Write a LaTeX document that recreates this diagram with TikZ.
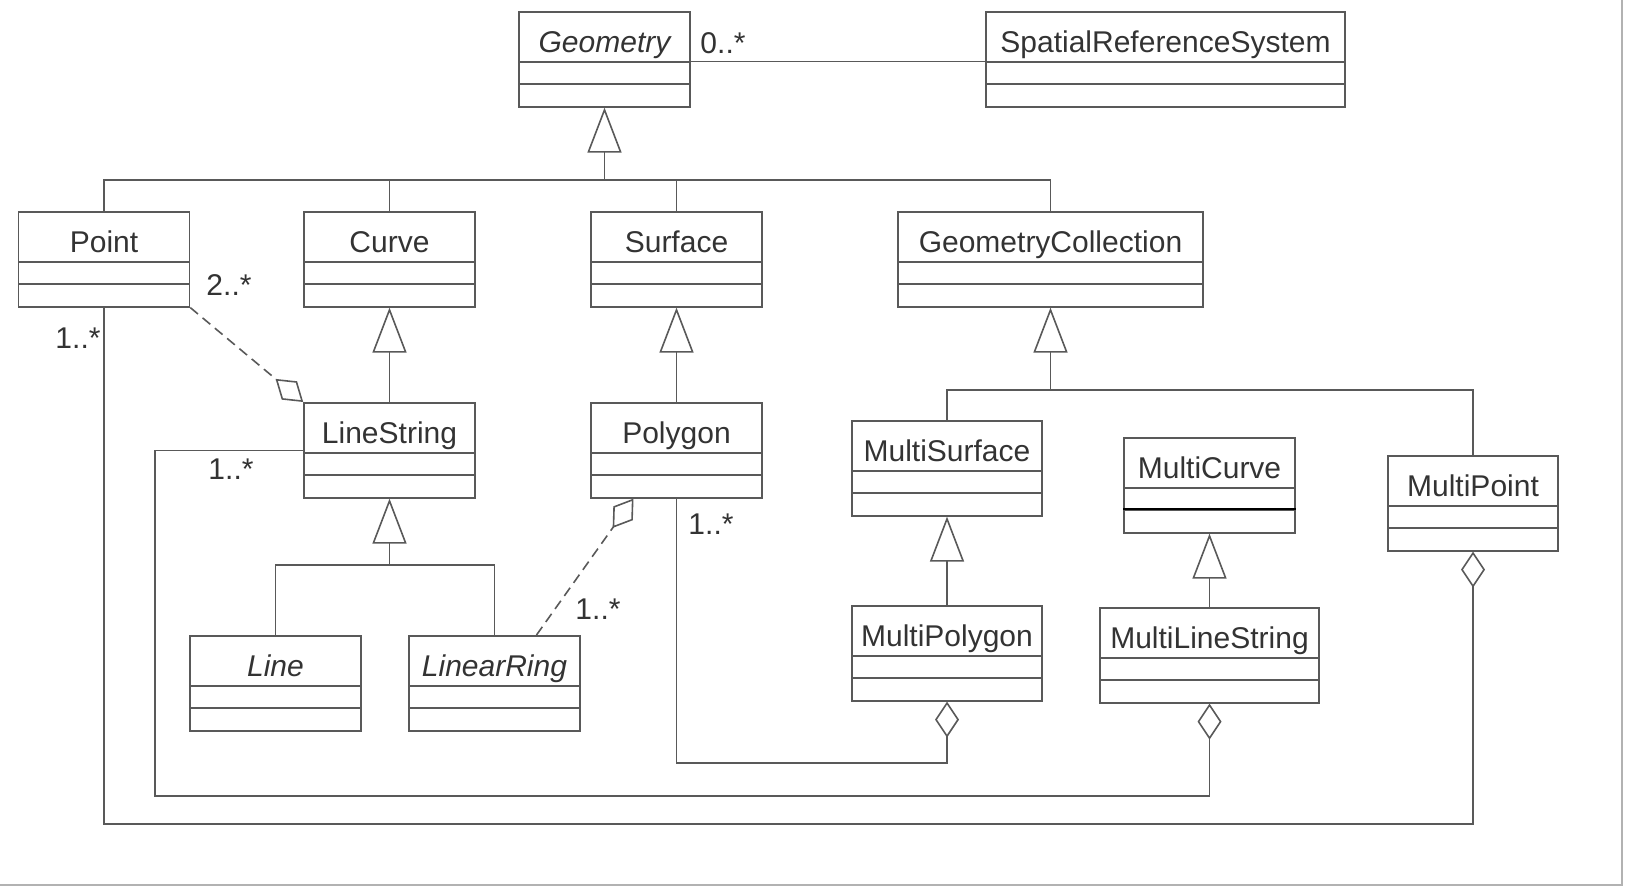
\documentclass[tikz,border=0pt]{standalone}
\usepackage{fontspec}
\setmainfont{Liberation Sans}
\usepackage{tikz}
\usetikzlibrary{arrows.meta}

\tikzset{
  cls/.style={draw=black!65, line width=1.6pt, anchor=north, minimum width=171pt,
    inner xsep=4pt, inner ysep=0pt, text height=41pt, text depth=54pt, text=black!80,
    font=\fontsize{30}{36}\selectfont,
    path picture={\draw[black!65, line width=1.6pt]
      ([yshift=-50pt]path picture bounding box.north west) -- ([yshift=-50pt]path picture bounding box.north east)
      ([yshift=-72pt]path picture bounding box.north west) -- ([yshift=-72pt]path picture bounding box.north east);}},
  abs/.style={cls, font=\fontsize{30}{36}\selectfont\itshape},
  link/.style={draw=black!65, line width=1.6pt},
  gen/.style={link, -{Triangle[open, length=45pt, width=34pt]}},
  agg/.style={link, -{Diamond[open, length=36pt, width=24pt]}},
  mult/.style={text=black!80, font=\fontsize{30}{36}\selectfont, inner sep=0pt},
}

\begin{document}
\begin{tikzpicture}[x=1pt, y=-1pt]
\useasboundingbox (0,0) rectangle (1627,886);
% classes
\node[abs] (geo) at (604.5,11) {Geometry};
\node[cls, minimum width=359pt] (srs) at (1165.5,11) {SpatialReferenceSystem};
\node[cls] (pt) at (104,211) {Point};
\node[cls] (cv) at (389.5,211) {Curve};
\node[cls] (sf) at (676.5,211) {Surface};
\node[cls, minimum width=305pt] (gc) at (1050.5,211) {GeometryCollection};
\node[cls] (ls) at (389.5,402) {LineString};
\node[cls] (pg) at (676.5,402) {Polygon};
\node[cls, minimum width=190pt] (ms) at (947,420) {MultiSurface};
\node[cls] (mc) at (1209.5,437) {MultiCurve};
\node[cls, minimum width=170pt] (mpt) at (1473,455) {MultiPoint};
\node[abs] (ln) at (275.5,635) {Line};
\node[abs] (lr) at (494.5,635) {LinearRing};
\node[cls, minimum width=190pt] (mpg) at (947,605) {MultiPolygon};
\node[cls, minimum width=219pt] (mls) at (1209.5,607) {MultiLineString};
% darker divider in MultiCurve
\draw[black, line width=1.6pt] ([yshift=-72pt]mc.north west) -- ([yshift=-72pt]mc.north east);

% bus lines
\coordinate (bus1) at (0,180);
\coordinate (bus2) at (0,565);
\coordinate (bus3) at (0,390);
\coordinate (pgbus) at (0,763);
\coordinate (lsturn) at (155,796);
\coordinate (ptbus) at (0,824);

% association
\draw[link] ([yshift=-2pt]geo.east) -- ([yshift=-2pt]srs.west);
\node[mult] (m0) at (723,43) {0..*};

% generalizations
\draw[gen] (geo.south |- bus1) -- (geo.south);
\draw[link] (pt.north) |- (gc.north |- bus1) -- (gc.north);
\draw[link] (cv.north) -- (cv.north |- bus1);
\draw[link] (sf.north) -- (sf.north |- bus1);
\draw[gen] (ls.north) -- (cv.south);
\draw[gen] (pg.north) -- (sf.south);
\draw[gen] (ls.south |- bus2) -- (ls.south);
\draw[link] (ln.north) |- (lr.north |- bus2) -- (lr.north);
\draw[gen] (gc.south |- bus3) -- (gc.south);
\draw[link] (ms.north) |- (mpt.north |- bus3) -- (mpt.north);
\draw[gen] (mpg.north) -- (ms.south);
\draw[gen] (mls.north) -- (mc.south);

% aggregations
\draw[agg, dash pattern=on 10pt off 6pt] (pt.south east) -- (ls.north west);
\draw[agg, dash pattern=on 10pt off 6pt] ([xshift=42pt]lr.north) -- ([xshift=-43pt]pg.south);
\draw[agg] (pg.south) -- (pg.south |- pgbus) -| (mpg.south);
\draw[agg] (ls.west) -| (lsturn) -| (mls.south);
\draw[agg] (pt.south) -- (pt.south |- ptbus) -| (mpt.south);

% multiplicities
\node[mult] (m1) at (229,285) {2..*};
\node[mult] (m2) at (78,338) {1..*};
\node[mult] (m3) at (231,469) {1..*};
\node[mult] (m4) at (711,524) {1..*};
\node[mult] (m5) at (598,609) {1..*};

% frame
\draw[black!30, line width=1.2pt] (1622,0) |- (0,885);
\end{tikzpicture}
\end{document}
